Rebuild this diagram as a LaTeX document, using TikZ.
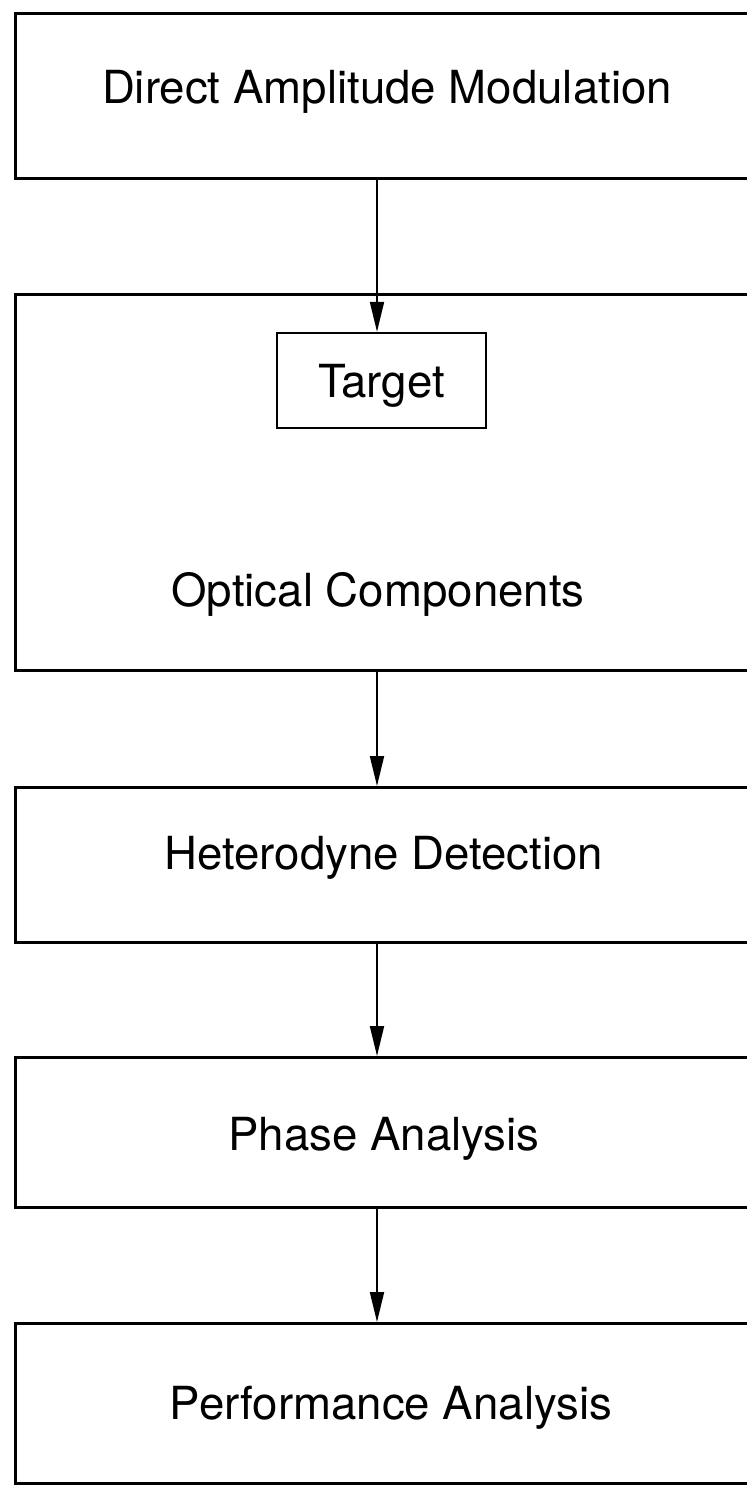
\documentclass[tikz,border=0pt]{standalone}
\usepackage{fontspec}
\setmainfont{TeX Gyre Heros}
\usetikzlibrary{arrows.meta, positioning}

\begin{document}
\begin{tikzpicture}[x=0.5pt, y=-0.5pt,
    blockbox/.style={draw, line width=1.5pt, anchor=north west, minimum width=373pt, inner sep=0pt},
    blocklabel/.style={anchor=base, inner sep=0pt, font=\fontsize{22.8}{27}\selectfont},
    flow/.style={-{Triangle[length=15pt, width=7pt]}, line width=1pt}]
    \useasboundingbox (0,0) rectangle (747,1485);
    \clip (0,0) rectangle (747,1485);
    \coordinate (spine) at (377,0);

    % blocks (cut off at the right edge)
    \node[blockbox, minimum height=82.5pt] (dam) at (14,12) {};
    \node[blockbox, minimum height=188pt] (oc) at (14,293) {};
    \node[blockbox, minimum height=77.5pt] (het) at (14,786) {};
    \node[blockbox, minimum height=75pt] (pha) at (14,1056) {};
    \node[blockbox, minimum height=80pt] (per) at (14,1322) {};

    \node[draw, line width=1.2pt, minimum width=104.5pt, minimum height=47.5pt, inner sep=0pt,
          text depth=0pt, font=\fontsize{22.8}{27}\selectfont] (tgt) at (381.5,380.5) {Target};

    % labels
    \node[blocklabel] (damtxt) at (387,103) {Direct Amplitude Modulation};
    \node[blocklabel] (octxt) at (378,606) {Optical Components};
    \node[blocklabel] (hettxt) at (384,869) {Heterodyne Detection};
    \node[blocklabel] (phatxt) at (384,1150) {Phase Analysis};
    \node[blocklabel] (pertxt) at (391,1419) {Performance Analysis};

    % connectors
    \draw[flow] (spine |- dam.south) -- (spine |- tgt.north);
    \draw[flow] (spine |- oc.south) -- (spine |- het.north);
    \draw[flow] (spine |- het.south) -- (spine |- pha.north);
    \draw[flow] (spine |- pha.south) -- (spine |- per.north);
\end{tikzpicture}
\end{document}
